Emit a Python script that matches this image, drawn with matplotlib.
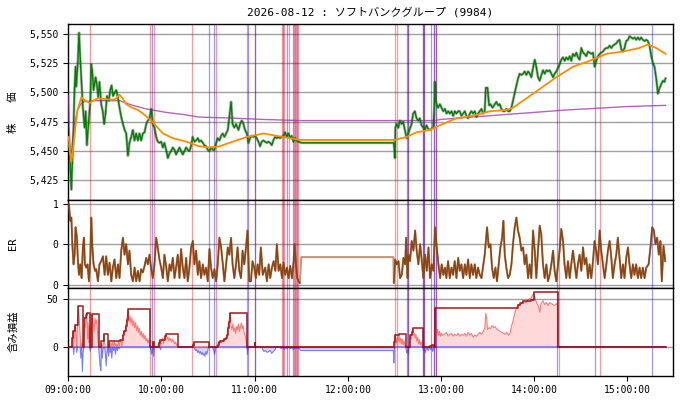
import numpy as np
import matplotlib
matplotlib.use("Agg")
import matplotlib.pyplot as plt
from matplotlib.ticker import FuncFormatter

plt.rcParams['font.family'] = ['DejaVu Sans Mono', 'Noto Sans CJK JP']
plt.rcParams['font.size'] = 7

TITLE = "2026-08-12 : ソフトバンクグループ (9984)"
YLABELS = ["株　　価", "ER", "含み損益"]

# time in minutes after 09:00
PRICE = [
    (0.4, 5455), (1.2, 5440), (2.0, 5417), (2.6, 5439), (3.4, 5470), (4.0, 5502), (4.7, 5522),
    (5.1, 5505), (6.2, 5527), (6.9, 5551), (7.7, 5529), (8.4, 5512), (9.4, 5487), (10.5, 5470),
    (11.2, 5484), (12.0, 5455), (13.0, 5473), (14.2, 5493), (14.8, 5524), (15.4, 5519),
    (16.3, 5502), (17.6, 5513), (18.4, 5507), (19.3, 5496), (20.1, 5509), (21.2, 5490),
    (22.2, 5484), (23.1, 5473), (24.0, 5482), (24.9, 5497), (26.1, 5493), (27.0, 5502),
    (27.9, 5506), (28.8, 5497), (29.9, 5500), (30.9, 5502), (31.9, 5496), (33.0, 5487),
    (34.1, 5479), (35.2, 5473), (36.3, 5468), (37.3, 5465), (38.4, 5446), (39.4, 5457),
    (40.5, 5462), (41.6, 5468), (42.6, 5459), (43.7, 5465), (44.8, 5459), (45.8, 5465),
    (46.9, 5459), (48.0, 5465), (49.1, 5466), (50.2, 5473), (51.2, 5476), (52.3, 5478),
    (53.4, 5486), (54.4, 5473), (55.5, 5470), (56.6, 5462), (57.6, 5458), (58.7, 5457),
    (59.8, 5458), (60.9, 5453), (61.9, 5457), (63.0, 5451), (64.1, 5444), (65.2, 5448),
    (66.2, 5450), (67.3, 5453), (68.4, 5451), (69.4, 5447), (70.5, 5450), (71.6, 5453),
    (72.6, 5450), (73.7, 5447), (74.8, 5450), (75.9, 5453), (76.9, 5451), (78.0, 5450),
    (79.0, 5454), (80.1, 5462), (81.2, 5458), (82.3, 5459), (83.4, 5461), (84.4, 5458),
    (85.5, 5459), (86.6, 5457), (87.6, 5455), (88.7, 5454), (89.8, 5451), (90.9, 5450),
    (92.0, 5453), (93.0, 5451), (94.1, 5451), (95.2, 5457), (96.2, 5461), (97.3, 5459),
    (98.4, 5463), (99.4, 5465), (100.5, 5462), (101.6, 5465), (102.7, 5468), (103.7, 5479),
    (104.8, 5492), (105.8, 5473), (106.9, 5470), (108.0, 5473), (109.6, 5468), (110.6, 5473),
    (111.7, 5476), (112.8, 5473), (113.8, 5468), (114.9, 5465), (116.0, 5457), (117.0, 5461),
    (118.1, 5463), (119.2, 5462), (120.3, 5463), (121.3, 5461), (122.4, 5458), (123.5, 5454),
    (124.5, 5458), (125.6, 5459), (126.7, 5458), (127.8, 5457), (128.8, 5458), (129.9, 5457),
    (131.0, 5455), (132.0, 5459), (133.1, 5462), (134.2, 5461), (135.3, 5462), (136.3, 5461),
    (137.4, 5462), (138.5, 5463), (139.6, 5466), (140.6, 5462), (141.7, 5465), (142.8, 5461),
    (143.8, 5463), (144.9, 5458), (146.0, 5461), (147.1, 5459), (148.1, 5458), (149.2, 5457.5),
    (150.0, 5457), (209.5, 5457), (210.0, 5450), (210.3, 5444), (210.6, 5470), (211.4, 5473),
    (212.5, 5470), (213.5, 5476), (214.6, 5473), (215.6, 5475), (216.7, 5468), (217.8, 5461),
    (218.9, 5465), (219.9, 5469), (221.0, 5473), (222.0, 5482), (223.1, 5484), (224.2, 5478),
    (225.3, 5476), (226.3, 5478), (227.4, 5472), (228.5, 5470), (229.6, 5468), (230.6, 5472),
    (231.7, 5469), (232.8, 5468), (233.8, 5469), (234.9, 5470), (235.6, 5485), (236.0, 5509),
    (236.5, 5493), (237.1, 5490), (238.1, 5487), (239.2, 5490), (240.3, 5487), (241.4, 5484),
    (242.5, 5486), (243.5, 5482), (244.6, 5484), (245.6, 5482), (246.7, 5484), (247.8, 5480),
    (248.8, 5484), (249.9, 5482), (251.0, 5484), (252.0, 5484), (253.1, 5480), (254.2, 5482),
    (255.3, 5484), (256.3, 5480), (257.4, 5478), (258.5, 5482), (259.5, 5484), (260.6, 5482),
    (261.7, 5484), (262.8, 5479), (263.8, 5482), (264.9, 5484), (266.0, 5486), (267.1, 5482),
    (268.1, 5484), (268.8, 5504), (269.9, 5504), (270.9, 5489), (271.8, 5490), (273.1, 5487),
    (274.6, 5490), (275.6, 5492), (276.7, 5489), (277.8, 5490), (278.8, 5486), (279.9, 5484),
    (281.0, 5484), (282.1, 5486), (283.1, 5484), (284.2, 5484), (285.3, 5487), (286.3, 5493),
    (287.4, 5500), (288.5, 5506), (289.6, 5512), (290.6, 5516), (291.7, 5515), (292.8, 5516),
    (293.8, 5518), (294.9, 5515), (296.0, 5518), (297.1, 5516), (298.1, 5513), (299.2, 5521),
    (300.3, 5528), (301.3, 5522), (302.4, 5513), (303.5, 5510), (304.6, 5515), (305.6, 5519),
    (306.7, 5516), (307.8, 5519), (308.8, 5518), (309.9, 5519), (311.0, 5516), (312.1, 5513),
    (313.1, 5516), (314.2, 5518), (315.3, 5521), (316.3, 5524), (317.4, 5528), (318.5, 5530),
    (319.6, 5527), (320.6, 5530), (321.7, 5528), (322.8, 5531), (323.8, 5527), (324.9, 5533),
    (326.0, 5531), (327.1, 5534), (328.1, 5530), (329.2, 5528), (330.3, 5538), (331.4, 5534),
    (332.4, 5533), (333.5, 5531), (334.6, 5535), (335.6, 5534), (336.7, 5533), (337.8, 5534),
    (338.9, 5522), (339.9, 5527), (341.0, 5531), (342.1, 5533), (343.2, 5534), (344.2, 5535),
    (345.3, 5537), (346.4, 5538), (347.4, 5538), (348.5, 5540), (349.6, 5538), (350.6, 5540),
    (351.7, 5541), (352.8, 5542), (353.8, 5544), (354.9, 5545), (356.0, 5537), (357.1, 5535),
    (358.1, 5538), (359.2, 5544), (360.3, 5545), (361.3, 5548), (362.4, 5547), (363.5, 5546),
    (364.6, 5547), (365.6, 5545), (366.7, 5547), (367.8, 5545), (368.8, 5547), (369.9, 5545),
    (371.0, 5544), (372.1, 5545), (373.1, 5544), (374.2, 5540), (375.3, 5531), (376.4, 5525),
    (377.4, 5522), (378.5, 5512), (379.6, 5499), (380.7, 5504), (381.7, 5507), (382.8, 5510),
    (383.8, 5509), (384.5, 5512),
]

MA = [
    (0.3, 5462), (1.0, 5450), (2.0, 5441), (3.0, 5450), (4.5, 5470), (6.0, 5485), (8.4, 5496),
    (10.0, 5494), (13.7, 5491), (16.0, 5493), (19.0, 5495), (26.4, 5494), (30.0, 5494),
    (33.0, 5498), (35.0, 5495), (37.3, 5490), (41.0, 5487), (45.0, 5485), (49.0, 5481),
    (53.4, 5476), (55.5, 5473), (60.9, 5465), (67.3, 5461), (75.9, 5458), (84.4, 5454),
    (90.9, 5453), (97.3, 5454), (103.7, 5457), (108.0, 5459), (115.0, 5462), (125.6, 5465),
    (134.0, 5463), (142.8, 5461), (149.2, 5459.5), (210.0, 5459.5), (217.8, 5462),
    (224.2, 5466), (232.8, 5468), (239.2, 5472), (249.9, 5478), (260.6, 5480), (271.3, 5484),
    (282.0, 5485), (286.3, 5487), (292.8, 5493), (303.5, 5503), (314.2, 5513), (324.9, 5522),
    (335.6, 5527), (346.4, 5533), (357.1, 5535), (367.8, 5538), (373.1, 5541), (378.5, 5538),
    (384.5, 5533),
]

VWAP = [
    (0.2, 5497), (0.6, 5470), (1.2, 5452), (2.0, 5448), (3.0, 5462), (4.5, 5476), (6.0, 5485),
    (8.0, 5490), (10.0, 5492), (16.0, 5493), (33.0, 5493), (37.0, 5491), (41.6, 5489),
    (50.0, 5486), (63.0, 5483), (75.0, 5481), (84.0, 5479), (108.0, 5478), (125.0, 5477),
    (150.0, 5476), (210.0, 5476), (236.0, 5476), (240.0, 5477), (260.0, 5479), (280.0, 5481),
    (300.0, 5483), (320.0, 5485), (340.0, 5486.5), (360.0, 5488), (384.5, 5489),
]

ER = [
    (0.4, 1.0), (1.3, 0.79), (2.0, 0.83), (2.6, 0.5), (3.4, 0.25), (4.1, 0.37), (4.7, 0.71),
    (5.6, 0.58), (6.2, 0.29), (6.9, 0.12), (7.7, 0.25), (8.6, 0.08), (9.4, 0.46), (10.1, 0.58),
    (10.7, 0.25), (11.6, 0.21), (12.4, 0.25), (13.3, 0.04), (14.2, 0.33), (14.8, 0.83),
    (15.5, 0.46), (16.3, 0.25), (17.2, 0.17), (18.0, 0.19), (19.1, 0.04), (20.1, 0.25),
    (21.2, 0.29), (22.3, 0.35), (23.4, 0.12), (24.4, 0.35), (25.5, 0.12), (26.6, 0.27),
    (27.7, 0.04), (28.7, 0.21), (29.8, 0.31), (30.9, 0.08), (32.0, 0.25), (33.0, 0.08),
    (34.1, 0.42), (35.2, 0.58), (36.2, 0.37), (37.3, 0.5), (38.4, 0.25), (39.4, 0.42),
    (40.5, 0.12), (41.6, 0.04), (42.7, 0.21), (43.7, 0.04), (44.8, 0.17), (45.9, 0.04),
    (46.9, 0.19), (48.0, 0.15), (49.1, 0.23), (50.2, 0.33), (51.2, 0.25), (52.3, 0.37),
    (53.4, 0.19), (54.4, 0.08), (55.5, 0.25), (56.6, 0.58), (57.6, 0.46), (58.7, 0.31),
    (59.8, 0.21), (60.9, 0.08), (61.9, 0.37), (63.0, 0.23), (64.1, 0.04), (65.2, 0.25),
    (66.2, 0.17), (67.3, 0.33), (68.4, 0.08), (69.4, 0.21), (70.5, 0.37), (71.6, 0.08),
    (72.6, 0.44), (73.7, 0.21), (74.8, 0.08), (75.9, 0.33), (76.9, 0.04), (78.0, 0.21),
    (79.1, 0.46), (80.2, 0.54), (81.2, 0.25), (82.3, 0.42), (83.4, 0.12), (84.4, 0.29),
    (85.5, 0.08), (86.6, 0.25), (87.6, 0.12), (88.7, 0.21), (89.8, 0.04), (90.9, 0.44),
    (91.9, 0.21), (93.0, 0.08), (94.1, 0.19), (95.2, 0.04), (96.2, 0.25), (97.3, 0.58),
    (98.4, 0.46), (99.5, 0.25), (100.5, 0.04), (101.6, 0.25), (102.7, 0.46), (103.7, 0.37),
    (104.8, 0.58), (105.8, 0.25), (106.9, 0.08), (108.0, 0.25), (109.0, 0.46), (110.1, 0.17),
    (111.2, 0.08), (112.2, 0.42), (113.3, 0.25), (114.4, 0.46), (115.4, 0.67), (116.5, 0.04),
    (117.6, 0.04), (118.6, 0.29), (119.7, 0.21), (120.8, 0.08), (121.9, 0.25), (122.9, 0.12),
    (124.0, 0.46), (125.2, 0.12), (126.8, 0.21), (127.9, 0.04), (129.0, 0.25), (130.0, 0.08),
    (131.1, 0.21), (132.2, 0.29), (133.3, 0.17), (134.3, 0.5), (135.4, 0.17), (136.5, 0.25),
    (137.6, 0.08), (138.6, 0.27), (139.7, 0.12), (140.8, 0.21), (141.8, 0.08), (142.9, 0.23),
    (144.0, 0.08), (145.1, 0.29), (145.7, 0.5), (146.6, 0.25), (147.4, 0.08), (148.3, 0.04),
    (149.1, 0.02), (150.0, 0.34), (209.3, 0.34), (209.6, 0.02), (210.4, 0.31), (211.5, 0.25),
    (212.6, 0.29), (213.6, 0.08), (214.7, 0.12), (215.8, 0.33), (216.9, 0.25), (217.5, 0.58),
    (218.4, 0.08), (219.0, 0.37), (220.0, 0.29), (221.1, 0.54), (222.2, 0.42), (223.3, 0.67),
    (224.3, 0.42), (225.4, 0.25), (226.5, 0.5), (227.6, 0.29), (228.6, 0.08), (229.7, 0.37),
    (230.8, 0.17), (231.9, 0.46), (232.9, 0.08), (234.0, 0.25), (235.1, 0.17), (236.1, 0.71),
    (237.2, 0.46), (238.3, 0.25), (239.4, 0.08), (240.4, 0.25), (241.5, 0.12), (242.5, 0.21),
    (243.4, 0.08), (244.5, 0.29), (245.6, 0.08), (246.7, 0.21), (247.7, 0.12), (248.8, 0.29),
    (249.9, 0.08), (251.0, 0.33), (252.0, 0.17), (253.1, 0.25), (254.2, 0.08), (255.3, 0.25),
    (256.3, 0.12), (257.4, 0.31), (258.5, 0.08), (259.5, 0.25), (260.6, 0.12), (261.7, 0.25),
    (262.7, 0.08), (263.8, 0.21), (264.9, 0.12), (266.0, 0.08), (268.1, 0.37), (269.6, 0.71),
    (270.7, 0.46), (271.8, 0.5), (272.8, 0.21), (273.9, 0.08), (275.0, 0.21), (276.0, 0.04),
    (277.1, 0.25), (278.2, 0.46), (279.3, 0.58), (280.1, 0.79), (281.0, 0.37), (282.0, 0.21),
    (283.1, 0.08), (284.2, 0.12), (285.3, 0.25), (286.3, 0.5), (287.4, 0.71), (288.5, 0.83),
    (289.5, 0.67), (290.6, 0.58), (291.7, 0.42), (292.8, 0.46), (293.8, 0.25), (294.9, 0.37),
    (296.0, 0.08), (297.0, 0.25), (298.1, 0.08), (299.2, 0.67), (300.3, 0.42), (301.3, 0.08),
    (302.4, 0.42), (303.5, 0.73), (304.5, 0.62), (305.6, 0.25), (306.7, 0.08), (307.8, 0.25),
    (308.8, 0.04), (309.9, 0.12), (311.0, 0.25), (312.1, 0.42), (313.1, 0.17), (314.2, 0.04),
    (315.3, 0.25), (316.3, 0.42), (317.4, 0.69), (318.5, 0.54), (319.5, 0.25), (320.6, 0.08),
    (321.7, 0.29), (322.8, 0.08), (323.8, 0.25), (324.9, 0.42), (326.0, 0.25), (327.1, 0.08),
    (328.1, 0.25), (329.2, 0.37), (330.3, 0.17), (331.4, 0.46), (332.4, 0.25), (333.5, 0.33),
    (334.6, 0.08), (335.6, 0.25), (336.7, 0.08), (337.8, 0.29), (338.8, 0.54), (339.9, 0.42),
    (341.0, 0.25), (342.1, 0.67), (343.1, 0.42), (344.2, 0.25), (345.3, 0.08), (346.4, 0.25),
    (347.4, 0.42), (348.5, 0.54), (349.6, 0.33), (350.6, 0.08), (351.7, 0.25), (352.8, 0.37),
    (353.8, 0.58), (354.9, 0.33), (356.0, 0.08), (357.1, 0.25), (358.1, 0.08), (359.2, 0.33),
    (360.3, 0.46), (361.3, 0.25), (362.4, 0.08), (363.5, 0.25), (364.5, 0.12), (365.6, 0.25),
    (366.7, 0.08), (367.8, 0.21), (368.8, 0.08), (369.9, 0.21), (371.0, 0.08), (372.1, 0.21),
    (373.6, 0.25), (374.8, 0.46), (375.9, 0.71), (377.0, 0.67), (378.0, 0.5), (379.1, 0.58),
    (380.2, 0.37), (381.2, 0.54), (382.1, 0.04), (383.2, 0.48), (384.3, 0.29),
]

PNL = [
    (0.0, 0), (2.4, 0), (2.6, 8), (3.1, 16), (3.5, -8), (4.0, 18), (4.6, 23), (5.1, 8),
    (5.5, -6), (6.0, 30), (6.6, 42), (7.1, 28), (7.6, 12), (8.1, -12), (8.6, 4), (9.1, -26),
    (9.5, -8), (10.0, 12), (10.5, 30), (11.0, 20), (11.5, 33), (12.0, 35), (12.4, 8),
    (12.8, 25), (13.3, 4), (13.8, 22), (14.2, -5), (14.6, 0), (15.0, 22), (15.5, 34),
    (16.0, 26), (16.6, 15), (17.2, 30), (17.8, 24), (18.4, 28), (19.0, 10), (19.5, 0),
    (20.0, -10), (20.5, -20), (21.0, -25), (21.4, 3), (21.9, -12), (22.4, -2), (22.9, 13),
    (23.4, 4), (23.9, -8), (24.4, -20), (24.9, -6), (25.5, 0), (26.0, -10), (26.5, 6),
    (27.0, -6), (27.5, 4), (28.0, -12), (28.6, 5), (29.2, -4), (29.8, 6), (30.4, -8),
    (31.0, 3), (31.6, -4), (32.2, 6), (32.8, -2), (33.4, 6), (34.0, 7), (34.6, 1), (35.2, 12),
    (35.8, 16), (36.4, 14), (37.0, 22), (37.6, 28), (38.2, 35), (38.6, 39), (39.2, 26),
    (39.8, 32), (40.4, 24), (41.0, 30), (41.6, 22), (42.2, 27), (42.8, 20), (43.4, 25),
    (44.0, 17), (44.6, 22), (45.2, 15), (45.8, 19), (46.4, 12), (47.0, 16), (47.6, 10),
    (48.2, 14), (48.8, 8), (49.4, 12), (50.0, 6), (50.6, 9), (51.2, 4), (51.8, 7), (52.4, 2),
    (52.8, 0), (53.2, -4), (53.8, -8), (54.2, -2), (54.6, 5), (55.0, -10), (55.5, 0),
    (57.5, 0), (58.2, 4), (58.8, 7), (59.4, -3), (60.0, 6), (60.6, 9), (61.2, 3), (61.8, 8),
    (62.4, 11), (63.0, 13), (63.6, 8), (64.2, 10), (64.8, 6), (65.4, 9), (66.0, 7), (66.6, 5),
    (67.2, 8), (67.8, 6), (68.4, 3), (69.0, 5), (69.8, 2), (70.5, 0), (79.8, 0), (80.2, 2),
    (80.8, 5), (81.4, -2), (82.0, -4), (82.6, -3), (83.2, -6), (83.8, -4), (84.4, -7),
    (85.0, -5), (85.6, -8), (86.2, -6), (86.8, -9), (87.4, -7), (88.0, -10), (88.6, -5),
    (89.2, -8), (89.8, -4), (90.4, 0), (93.0, 0), (93.6, -4), (94.2, -8), (94.8, -3),
    (95.3, 0), (96.2, 2), (96.8, 5), (97.4, 3), (98.0, 6), (98.6, 4), (99.2, 7), (99.8, 6),
    (100.4, 8), (101.0, 7), (101.6, 9), (102.2, 12), (102.7, 20), (103.3, 26), (103.8, 30),
    (104.3, 35), (104.8, 22), (105.4, 18), (106.0, 24), (106.6, 16), (107.2, 20), (107.8, 14),
    (108.4, 21), (109.0, 18), (109.6, 24), (110.2, 16), (110.8, 21), (111.4, 25), (112.0, 19),
    (112.6, 22), (113.2, 15), (113.8, 12), (114.4, 8), (115.0, 0), (115.4, -8), (115.8, 0),
    (119.8, 0), (120.0, 4), (120.4, 0), (124.7, 0), (125.2, -3), (126.0, -5), (127.0, -4),
    (128.0, -6), (129.0, -5), (130.0, -4), (131.0, -7), (132.0, -5), (133.3, -3), (133.6, 0),
    (136.5, 0), (137.0, -2), (138.0, 0), (139.0, -3), (140.0, -1), (141.0, -2), (142.0, 0),
    (143.0, -2), (144.0, -1), (145.0, -3), (146.0, -1), (147.0, -2), (148.3, -1), (149.5, -4),
    (209.3, -4), (209.6, -17), (210.0, 5), (210.4, 12), (210.9, 8), (211.4, 4), (211.9, 10),
    (212.4, 6), (212.9, 13), (213.4, 5), (214.0, 9), (214.5, 3), (215.0, 8), (215.6, 2),
    (216.2, 6), (216.8, 1), (217.3, 0), (217.8, -6), (218.3, -4), (218.8, -8), (219.3, 0),
    (219.8, 5), (220.3, 12), (220.8, 8), (221.3, 15), (221.8, 19), (222.3, 12), (222.8, 14),
    (223.3, 9), (223.8, 13), (224.4, 6), (224.9, 10), (225.5, 3), (226.0, 8), (226.6, 2),
    (227.2, 5), (227.8, 1), (228.2, 0), (228.6, -4), (229.2, -2), (229.8, -6), (230.4, -3),
    (231.0, -1), (231.6, -4), (232.2, -2), (232.8, 1), (233.4, -3), (234.0, 2), (234.6, -5),
    (235.2, -2), (235.7, 0), (236.2, 40), (236.6, 20), (237.2, 14), (237.8, 18), (238.4, 12),
    (239.0, 16), (239.6, 11), (240.2, 14), (240.8, 12), (242.4, 13), (243.5, 15), (244.5, 11),
    (245.6, 13), (246.7, 14), (247.8, 11), (248.8, 13), (249.9, 12), (251.0, 14), (252.0, 11),
    (253.1, 13), (254.2, 12), (255.3, 14), (256.3, 11), (257.4, 15), (258.5, 12), (259.5, 14),
    (260.6, 10), (261.7, 12), (262.8, 11), (263.8, 13), (264.9, 15), (266.0, 13), (267.1, 16),
    (268.1, 19.6), (268.8, 35), (269.3, 30), (269.9, 18), (270.9, 20), (271.8, 19),
    (272.8, 22), (273.9, 20), (274.9, 21), (276.0, 18), (277.0, 17), (278.1, 16), (279.1, 15),
    (280.2, 14), (281.2, 13), (282.3, 15), (283.3, 12), (284.4, 14), (285.4, 22), (286.3, 27),
    (287.4, 35), (288.4, 40), (289.5, 44), (290.6, 43), (291.6, 45), (292.7, 47), (293.8, 46),
    (294.8, 46), (295.9, 49), (297.0, 50), (298.0, 51), (299.1, 54), (299.8, 56), (300.6, 50),
    (301.7, 45), (302.7, 42), (303.5, 36), (304.3, 45), (305.6, 48), (306.7, 44), (307.8, 46),
    (308.8, 43), (310.0, 46), (311.0, 45), (312.0, 44), (313.1, 43), (314.2, 45), (315.0, 44),
    (315.3, 0), (384.5, 0),
]

PNL_MAX = [
    (0.0, 0), (2.5, 9), (3.0, 16), (4.2, 23), (6.0, 30), (6.5, 42), (9.4, 0), (10.3, 30),
    (11.5, 33), (12.0, 35), (14.2, 0), (15.0, 22), (15.4, 34), (19.5, 0), (21.3, 5.6),
    (22.8, 13), (25.5, 0), (26.4, 6), (33.4, 7), (35.0, 12), (35.8, 16), (37.0, 22),
    (37.6, 28), (38.2, 35), (38.5, 39.5), (52.9, 0), (54.5, 5), (55.2, 0), (58.2, 4),
    (58.8, 7), (62.4, 11), (63.0, 13), (70.5, 0), (80.2, 2), (80.7, 5), (90.4, 0), (96.2, 2),
    (96.8, 5), (98.0, 6), (100.4, 8), (101.6, 9), (102.2, 12), (102.7, 20), (103.3, 26),
    (103.8, 30), (104.3, 35), (115.0, 0), (120.0, 4), (120.4, 0), (210.0, 5), (210.4, 12),
    (212.9, 13), (217.3, 0), (219.8, 5), (220.3, 12), (221.3, 15), (221.8, 19.6), (228.2, 0),
    (232.8, 1), (234.0, 2), (235.7, 0), (236.2, 40.6), (289.5, 44), (290.6, 45.8),
    (292.7, 47.5), (298.0, 49), (299.8, 57), (315.3, 0), (384.5, 0),
]

ENTRY_LINES = [14.2, 52.8, 55.2, 79.9, 95.3, 115.3, 120.4, 137.3, 139.2, 142.1, 145.4, 146.6,
               147.9, 210.4, 211.4, 218.8, 228.6, 229.3, 235.7, 236.6, 316.2, 342.0]
EXIT_LINES = [53.9, 90.4, 93.6, 115.7, 120.4, 138.3, 140.5, 144.4, 146.0, 147.3, 217.8, 218.8,
              228.6, 229.3, 233.8, 235.7, 236.6, 314.9, 339.4, 375.7]

XTICKS = [0, 60, 120, 180, 240, 300, 360]
PRICE_TICKS = [5425, 5450, 5475, 5500, 5525, 5550]
ER_TICKS = [0, 0.5, 1]
PNL_TICKS = [0, 50]

pt, pv = np.array(PRICE, dtype=float).T
mt, mv = np.array(MA, dtype=float).T
vt, vv = np.array(VWAP, dtype=float).T
et, ev = np.array(ER, dtype=float).T
qt, qv = np.array(PNL, dtype=float).T
xt, xv = np.array(PNL_MAX, dtype=float).T

fig = plt.figure(figsize=(6.8, 4.0), dpi=100)
gs = fig.add_gridspec(3, 1, height_ratios=[2, 1, 1], hspace=0,
                      left=0.1004, right=0.989, top=0.94, bottom=0.0608)
ax1 = fig.add_subplot(gs[0])
ax2 = fig.add_subplot(gs[1], sharex=ax1)
ax3 = fig.add_subplot(gs[2], sharex=ax1)

for ax in (ax1, ax2, ax3):
    for t in ENTRY_LINES:
        ax.axvline(t, color='red', alpha=0.4, lw=0.9, zorder=1.5)
    for t in EXIT_LINES:
        ax.axvline(t, color='blue', alpha=0.4, lw=0.9, zorder=1.5)
    ax.grid(axis='y', color='#a0a0a0', lw=1.0, zorder=0)
    ax.set_axisbelow(True)
    for s in ax.spines.values():
        s.set_linewidth(1.0)
    ax.tick_params(axis='both', labelsize=7, length=3.5, width=0.8)
    ax.yaxis.set_major_formatter(FuncFormatter(lambda v, p: f"{v:,.0f}"))

# price panel
ax1.plot(pt, pv, color='black', lw=2.0, alpha=0.3, zorder=3)
ax1.plot(pt, pv, color='green', lw=1.0, zorder=4)
ax1.plot(vt, vv, color='#9932a0', alpha=0.75, lw=1.0, zorder=3)
ax1.plot(mt, mv, color='darkorange', lw=1.3, zorder=5)
ax1.set_ylim(5408.3, 5558.5)
ax1.set_yticks(PRICE_TICKS)

# ER panel
ax2.plot(et, ev, color='saddlebrown', lw=1.5, alpha=0.55, zorder=3)
m1 = et < 150
m2 = et > 209.4
ax2.plot(et[m1], ev[m1], color='saddlebrown', lw=1.1, zorder=4)
ax2.plot(et[m2], ev[m2], color='saddlebrown', lw=1.1, zorder=4)
ax2.set_ylim(-0.04, 1.05)
ax2.set_yticks(ER_TICKS)

# PnL panel
ax3.fill_between(qt, qv, 0, where=qv >= 0, color='red', alpha=0.15, lw=0, interpolate=True, zorder=2)
ax3.fill_between(qt, qv, 0, where=qv <= 0, color='blue', alpha=0.15, lw=0, interpolate=True, zorder=2)
ax3.plot(qt, np.maximum(qv, 0), color='#ff3030', alpha=0.6, lw=0.8, zorder=3)
ax3.plot(qt, np.minimum(qv, 0), color='#3030ff', alpha=0.6, lw=0.8, zorder=3)
ax3.step(xt, xv, where='post', color='darkred', lw=1.3, alpha=0.75, zorder=4)
ax3.set_ylim(-30.2, 61.5)
ax3.set_yticks(PNL_TICKS)

ax3.set_xlim(0, 389)
ax3.set_xticks(XTICKS)
ax3.xaxis.set_major_formatter(FuncFormatter(lambda v, p: f"{9 + int(round(v)) // 60:02d}:{int(round(v)) % 60:02d}:00"))
ax1.tick_params(axis='x', bottom=False, labelbottom=False)
ax2.tick_params(axis='x', bottom=False, labelbottom=False)

for ax, lab in zip((ax1, ax2, ax3), YLABELS):
    ax.set_ylabel(lab, fontsize=7.5)
    ax.yaxis.set_label_coords(-0.083, 0.5)

fig.text(0.5447, 1 - 12 / 400, TITLE, ha='center', va='center', fontsize=8)

fig.savefig("out.png", dpi=100)
